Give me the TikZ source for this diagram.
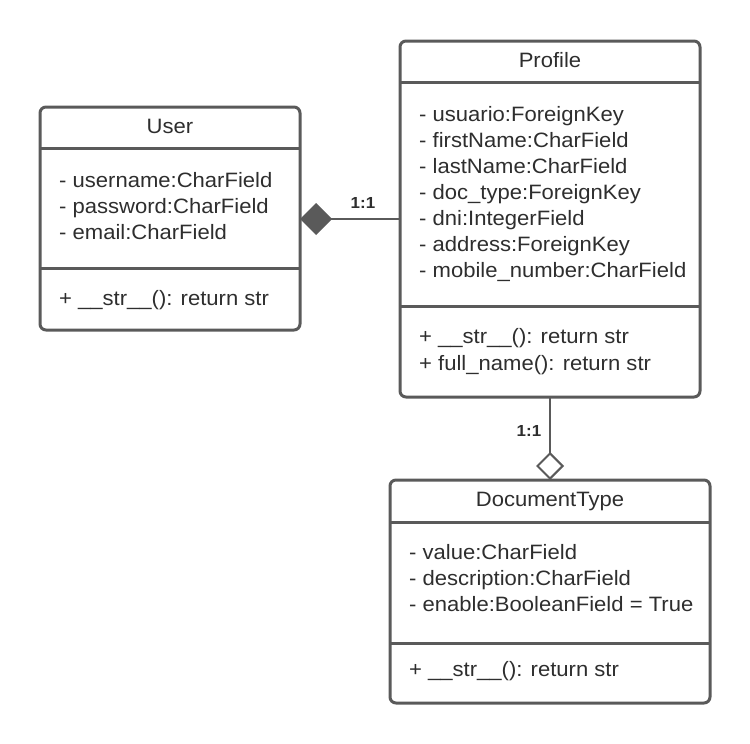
\documentclass[tikz,border=0pt]{standalone}
\usepackage{fontspec}
\setmainfont{Liberation Sans}[FakeStretch=1.06]
\usetikzlibrary{arrows.meta}
\definecolor{edge}{HTML}{5A5A5A}
\definecolor{ink}{HTML}{2E2E2E}
\tikzset{
  umlbox/.style={draw=edge, line width=3pt, rounded corners=6pt, inner sep=0pt, outer sep=0pt, fill=white},
  divider/.style={draw=edge, line width=3pt},
  txt/.style={anchor=base west, inner sep=0pt, text=ink, font=\fontsize{20.8}{24}\selectfont},
  ttl/.style={anchor=base, inner sep=0pt, text=ink, font=\fontsize{20.8}{24}\selectfont},
  mult/.style={anchor=base, inner sep=0pt, text=ink, font=\fontsize{16}{18}\selectfont\bfseries},
  conn/.style={draw=edge, line width=2pt},
}
\begin{document}
\begin{tikzpicture}[x=1pt,y=-1pt]
\useasboundingbox (0,0) rectangle (750,744);
% boxes
\node[umlbox, anchor=north west, minimum width=260pt, minimum height=223pt] (user) at (40,107) {};
\node[umlbox, anchor=north west, minimum width=300pt, minimum height=356pt] (profile) at (400,41) {};
\node[umlbox, anchor=north west, minimum width=320pt, minimum height=223pt] (doc) at (390,480) {};
% dividers
\draw[divider] (user.west |- 0,148) -- (user.east |- 0,148);
\draw[divider] (user.west |- 0,268) -- (user.east |- 0,268);
\draw[divider] (profile.west |- 0,82) -- (profile.east |- 0,82);
\draw[divider] (profile.west |- 0,306) -- (profile.east |- 0,306);
\draw[divider] (doc.west |- 0,522) -- (doc.east |- 0,522);
\draw[divider] (doc.west |- 0,643) -- (doc.east |- 0,643);
% User text
\node[ttl] (userT) at (170,133) {User};
\node[txt] (u1) at (59,187) {- username:CharField};
\node[txt] (u2) at (59,213) {- password:CharField};
\node[txt] (u3) at (59,239) {- email:CharField};
\node[txt] (u4) at (59,305) {+ \_\_str\_\_(): return str};
% Profile text
\node[ttl] (profT) at (550,67) {Profile};
\node[txt] (p1) at (419,121) {- usuario:ForeignKey};
\node[txt] (p2) at (419,147) {- firstName:CharField};
\node[txt] (p3) at (419,173) {- lastName:CharField};
\node[txt] (p4) at (419,199) {- doc\_type:ForeignKey};
\node[txt] (p5) at (419,225) {- dni:IntegerField};
\node[txt] (p6) at (419,251) {- address:ForeignKey};
\node[txt] (p7) at (419,277) {- mobile\_number:CharField};
\node[txt] (p8) at (419,343) {+ \_\_str\_\_(): return str};
\node[txt] (p9) at (419,370) {+ full\_name(): return str};
% DocumentType text
\node[ttl] (docT) at (550,506) {DocumentType};
\node[txt] (d1) at (409,559) {- value:CharField};
\node[txt] (d2) at (409,585) {- description:CharField};
\node[txt] (d3) at (409,611) {- enable:BooleanField = True};
\node[txt] (d4) at (409,676) {+ \_\_str\_\_(): return str};
% connectors
\draw[conn, -{Diamond[length=32pt,width=32pt,fill=edge,line width=0pt]}] (profile.west |- 0,219) -- (user.east |- 0,219);
\node[mult] (m1) at (363,208) {1:1};
\draw[conn, -{Diamond[open,length=28pt,width=28pt,fill=white]}] (profile.south -| 550,0) -- (doc.north -| 550,0);
\node[mult] (m2) at (529,436) {1:1};
\end{tikzpicture}
\end{document}
